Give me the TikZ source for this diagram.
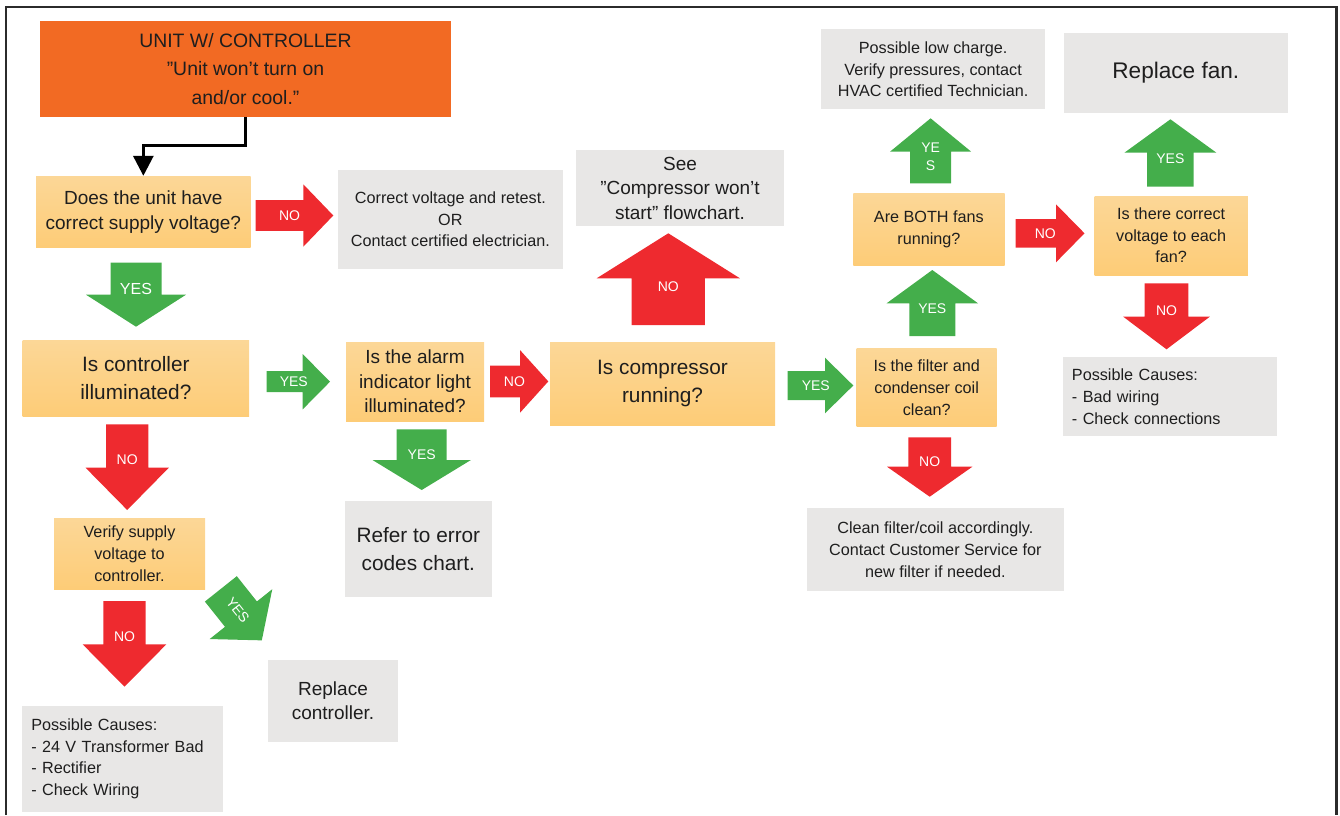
\documentclass[tikz,border=0pt]{standalone}
\usepackage{fontspec}
\setmainfont{Liberation Sans}
\usetikzlibrary{arrows.meta}

\definecolor{cadre}{HTML}{2B2B2B}
\definecolor{orangetitre}{HTML}{F26A23}
\definecolor{jauneclair}{HTML}{FCD797}
\definecolor{jaunefonce}{HTML}{FDCC77}
\definecolor{grisbox}{HTML}{E8E7E6}
\definecolor{rougefl}{HTML}{EE2A2F}
\definecolor{vertfl}{HTML}{44AE4B}
\definecolor{texte}{HTML}{1E1E1E}

\tikzset{
  pics/blkarrow/.style args={#1/#2/#3/#4/#5}{code={
    \fill (0,-#2/2) -- (#1-#4,-#2/2) -- (#1-#4,-#3/2) -- (#1,0)
      -- (#1-#4,#3/2) -- (#1-#4,#2/2) -- (0,#2/2) -- cycle;
    \node[lbl] (-lab) at ({(#1-#4)/2+#4/3},0) {#5};
  }}
}

\begin{document}
\begin{tikzpicture}[x=1pt, y=-1pt,
  every node/.style={text=texte, inner sep=0pt, align=center},
  titre/.style={rectangle, fill=orangetitre, font=\fontsize{19.4}{28.3}\selectfont},
  qbox/.style={rectangle, top color=jauneclair, bottom color=jaunefonce},
  abox/.style={rectangle, fill=grisbox},
  petit/.style={font=\fontsize{16.2}{21.7}\selectfont},
  moyen/.style={font=\fontsize{19}{24.5}\selectfont},
  grand/.style={font=\fontsize{20.8}{28.3}\selectfont},
  lbl/.style={text=white, font=\fontsize{14}{18}\selectfont},
  noarr/.style={color=rougefl},
  yesarr/.style={color=vertfl},
  link/.style={line width=3pt, -{Triangle[width=20pt,length=20pt]}}]
  \useasboundingbox (0,0) rectangle (1340,815);

  % cadre
  \draw[cadre, line width=2.5pt] (6.2,815) |- (1336.7,7) -- (1336.7,815);

  % boites
  \node[titre, minimum width=411pt, minimum height=95.7pt] (titre) at (245.5,68.85)
    {UNIT W/ CONTROLLER\\”Unit won't turn on\\and/or cool.”};
  \node[qbox, moyen, minimum width=214.7pt, minimum height=71.7pt] (q1) at (143.35,211.85)
    {Does the unit have\\correct supply voltage?};
  \node[abox, petit, minimum width=224.7pt, minimum height=99pt] (r1) at (450.35,219.5)
    {Correct voltage and retest.\\OR\\Contact certified electrician.};
  \node[qbox, grand, minimum width=226.3pt, minimum height=76.7pt] (q2) at (135.85,378.35)
    {Is controller\\illuminated?};
  \node[qbox, moyen, minimum width=138pt, minimum height=79pt] (q3) at (415,381.5)
    {Is the alarm\\indicator light\\illuminated?};
  \node[qbox, grand, minimum width=225pt, minimum height=82.7pt] (q4) at (662.5,383.65)
    {Is compressor\\running?};
  \node[abox, moyen, minimum width=208pt, minimum height=76pt] (r2) at (680,188)
    {See\\”Compressor won't\\start” flowchart.};
  \node[qbox, petit, minimum width=140pt, minimum height=78.4pt] (q5) at (926.7,387.5)
    {Is the filter and\\condenser coil\\clean?};
  \node[abox, petit, minimum width=257.3pt, minimum height=82.4pt] (r3) at (935.35,549.5)
    {Clean filter/coil accordingly.\\Contact Customer Service for\\new filter if needed.};
  \node[qbox, petit, minimum width=151.2pt, minimum height=72.4pt] (q6) at (928.9,229.5)
    {Are BOTH fans\\running?};
  \node[abox, petit, minimum width=223.7pt, minimum height=80pt] (r4) at (933.15,69.3)
    {Possible low charge.\\Verify pressures, contact\\HVAC certified Technician.};
  \node[qbox, petit, minimum width=153.3pt, minimum height=79pt] (q7) at (1171.15,235.5)
    {Is there correct\\voltage to each\\fan?};
  \node[abox, font=\fontsize{22.6}{28}\selectfont, minimum width=224.4pt, minimum height=79.4pt] (r5) at (1175.8,73)
    {Replace fan.};
  \node[abox, petit, align=left, text width=196pt, minimum width=214.1pt, minimum height=78.4pt] (r6) at (1169.95,396.5)
    {Possible Causes:\\- Bad wiring\\- Check connections};
  \node[qbox, petit, minimum width=151pt, minimum height=70.7pt] (q8) at (129.5,553.65)
    {Verify supply\\voltage to\\controller.};
  \node[abox, grand, minimum width=146.7pt, minimum height=95.7pt] (r7) at (418.35,548.85)
    {Refer to error\\codes chart.};
  \node[abox, moyen, minimum width=129.4pt, minimum height=81.7pt] (r8) at (333,700.85)
    {Replace\\controller.};
  \node[abox, petit, align=left, text width=182.4pt, minimum width=200.4pt, minimum height=105.7pt] (r9) at (122.5,758.85)
    {Possible Causes:\\- 24 V Transformer Bad\\- Rectifier\\- Check Wiring};

  \draw[link] (titre.south) -- ++(0,28.3) -| (q1.north);

  % fleches OUI / NON
  \pic[yesarr, rotate=-90, lbl/.append style={font=\fontsize{16}{18}\selectfont}] (a1) at (136,262.7) {blkarrow=64/51/100/32/YES};
  \pic[noarr] (a2) at (255.7,215.5) {blkarrow=77.6/30.7/62.4/30/NO};
  \pic[noarr, rotate=90] (a3) at (668.3,325) {blkarrow=91.7/73.3/143.3/45/NO};
  \pic[noarr] (a4) at (490,381.4) {blkarrow=58.3/31.7/62.7/28.3/NO};
  \pic[yesarr] (a5) at (266.7,381.7) {blkarrow=63.3/21/55.3/27.3/YES};
  \pic[noarr, rotate=-90] (a6) at (127.2,424.3) {blkarrow=85.7/42.3/83.3/42.3/NO};
  \pic[yesarr, rotate=-90] (a7) at (421.7,429.3) {blkarrow=60.7/50/98.4/30/YES};
  \pic[noarr, rotate=-90] (a8) at (124.5,601) {blkarrow=85.7/42.4/83.7/42.4/NO};
  \pic[yesarr, rotate=-51.5, lbl/.append style={transform shape}] (a9) at (220.85,588.85) {blkarrow=65.8/40.8/80/33.5/YES};
  \pic[yesarr] (a10) at (787.7,385.5) {blkarrow=65.6/29/55.6/28.3/YES};
  \pic[noarr, rotate=-90] (a11) at (929.7,437.3) {blkarrow=59.4/42.7/85.4/30/NO};
  \pic[yesarr, rotate=90] (a12) at (932.3,336) {blkarrow=66/46/91.4/33.3/YES};
  \pic[yesarr, rotate=90] (a13) at (930.6,183.3) {blkarrow=65/41.2/81/33.3/YE\\S};
  \pic[noarr] (a14) at (1015.5,233.3) {blkarrow=69/28.4/58/28.5/NO};
  \pic[yesarr, rotate=90] (a15) at (1170.4,186.7) {blkarrow=67.4/46.5/92/33.4/YES};
  \pic[noarr, rotate=-90] (a16) at (1166.5,283.3) {blkarrow=66/43.6/86.6/32.6/NO};
\end{tikzpicture}
\end{document}
